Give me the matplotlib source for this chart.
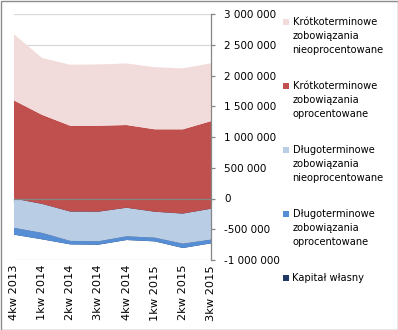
import matplotlib
matplotlib.use('Agg')
import matplotlib.pyplot as plt
from matplotlib.patches import Rectangle

# quarters on the x axis
quarters = ['4kw 2013', '1kw 2014', '2kw 2014', '3kw 2014',
            '4kw 2014', '1kw 2015', '2kw 2015', '3kw 2015']

# series, in stacking order (bottom first)
kapital = [-588000, -664000, -746000, -751000, -675000, -697000, -805000, -729000]
dlug_opr = [111000, 104000, 56000, 55000, 60000, 60000, 70000, 60000]
dlug_nieopr = [477000, 472000, 478000, 482000, 465000, 422000, 490000, 503000]
krot_opr = [1595000, 1448000, 1395000, 1397000, 1345000, 1340000, 1370000, 1424000]
krot_nieopr = [1075000, 925000, 992000, 997000, 1001000, 1010000, 991000, 941000]

labels = ['Kapitał własny',
          'Długoterminowe\nzobowiązania\noprocentowane',
          'Długoterminowe\nzobowiązania\nnieoprocentowane',
          'Krótkoterminowe\nzobowiązania\noprocentowane',
          'Krótkoterminowe\nzobowiązania\nnieoprocentowane']
colors = ['#1F3864', '#558ED5', '#B9CDE5', '#C0504D', '#F2DCDB']

yticks = [-1000000, -500000, 0, 500000, 1000000, 1500000, 2000000, 2500000, 3000000]

W, H = 398, 330
fig = plt.figure(figsize=(W / 100, H / 100), dpi=100)
fig.patch.set_facecolor('white')
fig.patches.append(Rectangle((0.5 / W, 0.5 / H), 1 - 1 / W, 1 - 1 / H, transform=fig.transFigure,
                             fill=False, edgecolor='#8C8C8C', linewidth=1.0))

ax = fig.add_axes([14 / W, 70 / H, 197 / W, 246 / H])
x = list(range(len(quarters)))
ax.stackplot(x, kapital, dlug_opr, dlug_nieopr, krot_opr, krot_nieopr,
             colors=colors, linewidth=0, zorder=2)

ax.set_xlim(0, len(quarters) - 1)
ax.set_ylim(-1000000, 3000000)

# grid
for v in yticks:
    ax.axhline(v, color='#D9D9D9', linewidth=0.9, zorder=1)

# right value axis
ax.yaxis.tick_right()
ax.set_yticks(yticks)
ax.set_yticklabels(['{:,}'.format(v).replace(',', ' ') for v in yticks])
ax.tick_params(axis='y', direction='out', length=3, width=0.9, color='#868686',
               pad=6.3, labelsize=7.5)
for s in ['left', 'top']:
    ax.spines[s].set_visible(False)
ax.spines['right'].set_color('#868686')
ax.spines['right'].set_linewidth(0.9)

# category axis crossing at zero, labels at the bottom
ax.spines['bottom'].set_position(('data', 0))
ax.spines['bottom'].set_color('#868686')
ax.spines['bottom'].set_linewidth(0.9)
ax.spines['bottom'].set_zorder(3)
ax.set_xticks(x)
ax.set_xticklabels([])
ax.tick_params(axis='x', direction='out', length=3, width=0.9, color='#868686')
for i, q in enumerate(quarters):
    ax.text(i, -0.02, q, rotation=90, ha='center', va='top', fontsize=8.2,
            transform=ax.get_xaxis_transform())

# legend, top entry first (baselines of first lines)
leg_base = [25, 89, 153, 217, 281]
for k, (lab, col) in enumerate(zip(labels[::-1], colors[::-1])):
    b = leg_base[k]
    fig.patches.append(Rectangle((283 / W, 1 - b / H), 6 / W, 6 / H,
                                 transform=fig.transFigure, facecolor=col, edgecolor='none'))
    fig.text(292.5 / W, 1 - (b - 8) / H, lab, ha='left', va='top', fontsize=7.1,
             linespacing=1.47)

fig.savefig('out.png', dpi=100, facecolor='white')
